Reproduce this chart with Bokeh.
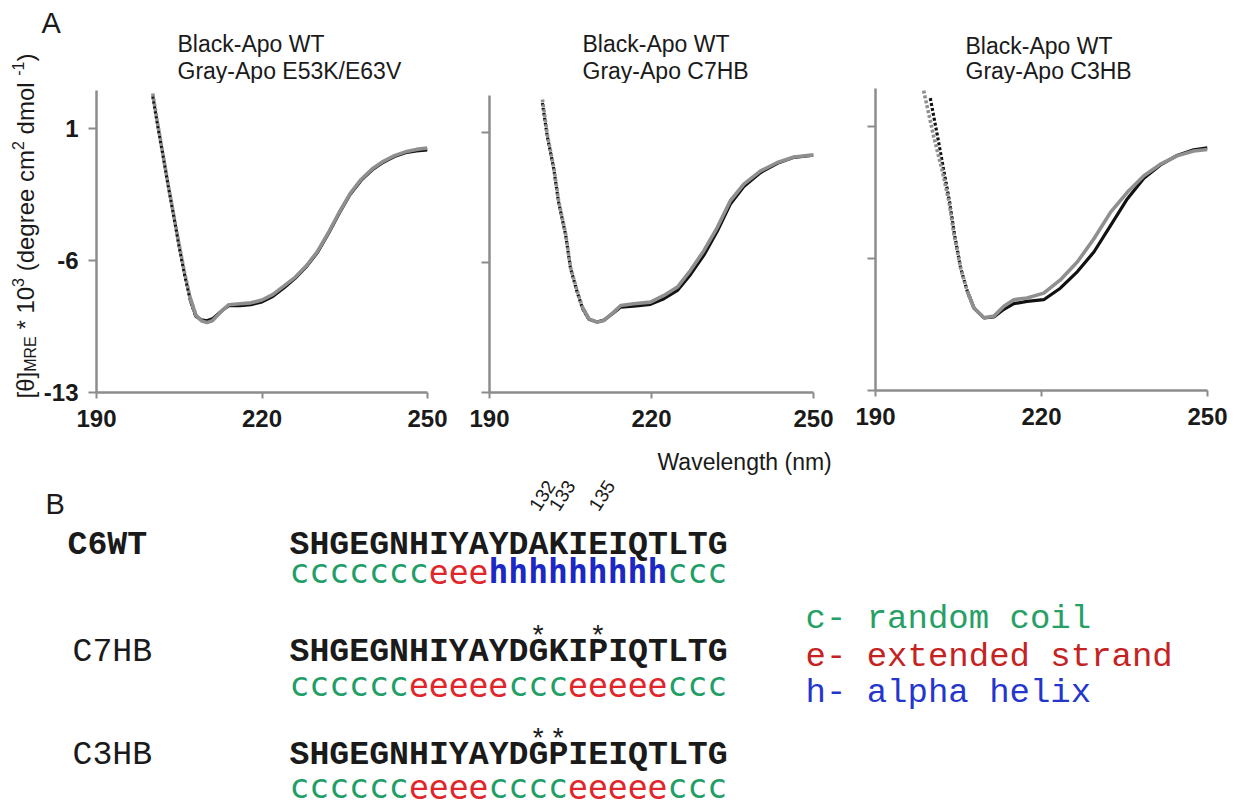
import math
from bokeh.plotting import figure
from bokeh.models import Range1d, FixedTicker
from bokeh.layouts import column, row
from bokeh.core.properties import value
from bokeh.embed import file_html
from bokeh.resources import INLINE

# ---------------- data ----------------
x_ticks = [190, 220, 250]
y_ticks = [-13, -6, 1]
y_tick_labels = ["-13", "-6", "1"]
panel_titles = [["Black-Apo WT", "Gray-Apo E53K/E63V"],
                ["Black-Apo WT", "Gray-Apo C7HB"],
                ["Black-Apo WT", "Gray-Apo C3HB"]]
x_title = "Wavelength (nm)"

p1_wl = [200.2, 201.0, 202.0, 203.0, 204.0, 205.0, 206.0, 207.0, 208.0, 209.0, 210.0, 211.0,
         212.0, 213.0, 214.0, 216.0, 218.0, 220.0, 222.0, 224.0, 226.0, 228.0, 230.0, 232.0,
         234.0, 236.0, 238.0, 240.0, 242.0, 244.0, 246.0, 248.0, 250.0]
p1_gray = [2.84, 1.4, -0.3, -2.0, -3.6, -5.2, -6.7, -8.0, -8.9, -9.2, -9.3, -9.2,
           -8.9, -8.6, -8.35, -8.3, -8.25, -8.1, -7.8, -7.35, -6.9, -6.3, -5.55, -4.55,
           -3.45, -2.45, -1.7, -1.15, -0.75, -0.45, -0.25, -0.12, -0.05]
p1_black = [2.7, 1.3, -0.35, -2.05, -3.65, -5.3, -6.8, -8.1, -8.95, -9.15, -9.2, -9.1,
            -8.85, -8.6, -8.4, -8.4, -8.35, -8.2, -7.9, -7.45, -6.95, -6.35, -5.6, -4.6,
            -3.5, -2.5, -1.75, -1.2, -0.8, -0.5, -0.3, -0.2, -0.15]

p2_wl = [199.8, 200.7, 201.9, 202.8, 204.1, 205.0, 206.2, 207.2, 208.4, 209.9, 211.2, 213.0,
         214.3, 216.7, 219.8, 222.3, 224.8, 227.2, 229.7, 232.2, 234.6, 237.1, 240.2, 243.3,
         246.4, 250.0]
p2_gray = [2.79, 0.91, -0.88, -2.67, -4.46, -6.25, -7.5, -8.4, -9.03, -9.21, -9.12, -8.67,
           -8.31, -8.22, -8.13, -7.77, -7.32, -6.43, -5.36, -4.1, -2.67, -1.77, -1.06, -0.61,
           -0.31, -0.2]
p2_black = [2.6, 0.8, -0.95, -2.75, -4.5, -6.3, -7.55, -8.45, -9.05, -9.2, -9.1, -8.7,
            -8.4, -8.35, -8.25, -7.95, -7.5, -6.65, -5.6, -4.3, -2.85, -1.9, -1.15, -0.65,
            -0.33, -0.22]

p3_wl_gray = [198.7, 200.5, 202.0, 203.3, 204.2, 205.4, 206.6, 207.8, 209.6, 211.4, 213.2, 215.0,
              217.4, 220.4, 223.4, 226.5, 229.5, 232.5, 235.5, 238.5, 241.5, 244.5, 247.5, 250.0]
p3_gray = [2.89, 0.48, -1.28, -3.03, -4.77, -6.53, -7.75, -8.63, -9.15, -9.06, -8.54, -8.19,
           -8.10, -7.84, -7.14, -6.18, -4.95, -3.55, -2.5, -1.62, -1.01, -0.57, -0.31, -0.23]
p3_wl_black = [199.9, 201.2, 202.3, 203.4, 204.3, 205.4, 206.6, 207.8, 209.6, 211.4, 213.2, 215.0,
               217.4, 220.4, 223.4, 226.5, 229.5, 232.5, 235.5, 238.5, 241.5, 244.5, 247.5, 250.0]
p3_black = [2.49, 0.48, -1.28, -3.03, -4.77, -6.53, -7.75, -8.63, -9.15, -9.1, -8.7, -8.4,
            -8.28, -8.19, -7.58, -6.7, -5.65, -4.25, -2.85, -1.75, -1.05, -0.55, -0.25, -0.15]

seq_names = ["C6WT", "C7HB", "C3HB"]
sequences = ["SHGEGNHIYAYDAKIEIQTLTG",
             "SHGEGNHIYAYDGKIPIQTLTG",
             "SHGEGNHIYAYDGPIEIQTLTG"]
structures = ["ccccccceeehhhhhhhhhccc",
              "cccccceeeeeccceeeeeccc",
              "cccccceeeecccceeeeeccc"]
first_residue = 120
marked_residues = [132, 133, 135]
mutated_residues = [[], [132, 135], [132, 133]]
legend_keys = ["c", "e", "h"]
legend_names = ["random coil", "extended strand", "alpha helix"]

# ---------------- styles / layout (page pixel coordinates) ----------------
SANS = "Liberation Sans"
MONO = "Liberation Mono"
SMONO = "DejaVu Sans Mono"
KMID = {SANS: 0.3465, MONO: 0.2665, SMONO: 0.346}
AXIS_GRAY = "#8c8c8c"
TXT = "#1a1a1a"
GRAY_LINE = "#8f8f8f"
BLACK_LINE = "#111111"
STRUCT_COL = {"c": "#1f9e68", "e": "#e0262b", "h": "#1c28c4"}
LEGEND_COL = {"c": "#27a065", "e": "#c4231f", "h": "#2536cc"}
STEEP_END = 207.5

L_W = 40            # left strip with the y-axis title
TOP_Y = 83          # bottom of the title strip
ROW_Y = 440         # bottom of the CD panels
PAGE_W = 1229
BOTTOM_Y = 807

# (frame_left, frame_top, frame_w, frame_h, fig_left, fig_w)
frames = [(93, 90, 334, 302, L_W, 460 - L_W),
          (489, 95, 324, 297, 460, 385),
          (875, 88, 332, 302, 845, PAGE_W - 845)]


def mid(baseline, size, font):
    return baseline - KMID[font] * size


def blank_fig(w, h, xr, yr):
    p = figure(width=w, height=h, x_range=xr, y_range=yr, output_backend="svg", title=None,
               toolbar_location=None, min_border=0, x_axis_location=None, y_axis_location=None,
               frame_align=False)
    p.outline_line_color = None
    p.grid.visible = False
    return p


def cd_panel(i, wl_b, val_b, wl_g, val_g):
    fl, ft, fw, fh, gl, gw = frames[i]
    p = figure(width=gw, height=ROW_Y - TOP_Y, x_range=Range1d(190, 250), y_range=Range1d(-13, 3),
               output_backend="svg", toolbar_location=None, title=None, frame_align=False,
               min_border_left=fl - gl, min_border_right=gl + gw - (fl + fw),
               min_border_top=ft - TOP_Y, min_border_bottom=ROW_Y - (ft + fh))
    p.outline_line_color = None
    p.grid.visible = False
    p.xaxis.ticker = FixedTicker(ticks=x_ticks)
    p.yaxis.ticker = FixedTicker(ticks=y_ticks)
    for ax in (p.xaxis[0], p.yaxis[0]):
        ax.axis_line_color = AXIS_GRAY
        ax.axis_line_width = 2.5
        ax.major_tick_line_color = AXIS_GRAY
        ax.major_tick_line_width = 2
        ax.major_tick_in = 0
        ax.minor_tick_line_color = None
        ax.major_label_text_font = SANS
        ax.major_label_text_font_style = "bold"
        ax.major_label_text_font_size = "24px"
        ax.major_label_text_color = TXT
    p.xaxis.major_tick_out = 6
    p.xaxis.major_label_standoff = 11
    p.yaxis.major_tick_out = 8
    p.yaxis.major_label_standoff = 10
    if i == 0:
        p.yaxis.major_label_overrides = {t: s for t, s in zip(y_ticks, y_tick_labels)}
    else:
        p.yaxis.major_label_overrides = {t: "" for t in y_ticks}
        p.yaxis.major_label_text_font_size = "1px"
    p.xaxis.major_label_overrides = {t: str(t) for t in x_ticks}
    for wl, v, c, w in ((wl_b, val_b, BLACK_LINE, 3.2), (wl_g, val_g, GRAY_LINE, 3.6)):
        k = sum(1 for a in wl if a <= STEEP_END)
        p.line(wl[:k + 1], v[:k + 1], line_color=c, line_width=w, line_dash="3 2")
        p.line(wl[k - 1:], v[k - 1:], line_color=c, line_width=w)
    return p


f1 = cd_panel(0, p1_wl, p1_black, p1_wl, p1_gray)
f2 = cd_panel(1, p2_wl, p2_black, p2_wl, p2_gray)
f3 = cd_panel(2, p3_wl_black, p3_black, p3_wl_gray, p3_gray)

# ---------- title strip ----------
T = blank_fig(PAGE_W - L_W, TOP_Y, Range1d(L_W, PAGE_W), Range1d(TOP_Y, 0))
title_pos = [(177, 51, 78), (582, 51, 78), (965, 53, 78)]
tx, ty, tt = [], [], []
for i in range(3):
    px, b1, b2 = title_pos[i]
    tx += [px, px]
    ty += [mid(b1, 23, SANS), mid(b2, 23, SANS)]
    tt += panel_titles[i]
T.text(x=tx, y=ty, text=tt, text_font=value(SANS), text_font_size="23px", text_color=TXT,
       text_baseline="middle", text_align="left")
T.text(x=[41], y=[mid(33, 29, SANS)], text=["A"], text_font=value(SANS), text_font_size="29px",
       text_color=TXT, text_baseline="middle", text_align="left")

# ---------- y-axis title strip (pieces with subscript / superscripts) ----------
L = blank_fig(L_W, ROW_Y, Range1d(0, L_W), Range1d(ROW_Y, 0))
AW = {'[': 278, ']': 278, 'θ': 556, 'M': 833, 'R': 722, 'E': 667, '*': 389, ' ': 278,
      '1': 556, '0': 556, '3': 556, '(': 333, ')': 333, 'd': 556, 'e': 556, 'g': 556,
      'r': 333, 'c': 500, 'm': 833, '2': 556, 'o': 556, 'l': 222, '-': 333}
pieces = [("[θ]", "n", 0), ("MRE", "sub", 0), ("* 10", "n", 1), ("3", "sup", 0),
          ("(degree cm", "n", 1), ("2", "sup", 0), ("dmol", "n", 1), ("-1", "sup", 1),
          (")", "n", 0)]
MAIN, SMALL = 24.0, 16.0
BASE_X, START_Y = 33, 398
pos = 0.0
for txt, kind, gap in pieces:
    size = MAIN if kind == "n" else SMALL
    pos += gap * AW[' '] / 1000.0 * MAIN
    bx = BASE_X + {"n": 0, "sub": 3, "sup": -10}[kind]
    L.text(x=[bx - KMID[SANS] * size], y=[START_Y - pos], text=[txt], angle=math.pi / 2,
           text_font=value(SANS), text_font_size=f"{int(size)}px", text_color=TXT,
           text_baseline="middle", text_align="left")
    pos += sum(AW.get(ch, 556) for ch in txt) / 1000.0 * size

# ---------------- panel B ----------------
CW = 19.9
SEQ_LEFT = 289


def col(px):
    return (px - SEQ_LEFT) / CW


fB = blank_fig(PAGE_W, BOTTOM_Y - ROW_Y, Range1d(col(0), col(PAGE_W)), Range1d(BOTTOM_Y, ROW_Y))

fB.text(x=[col(657)], y=[mid(469, 23, SANS)], text=[x_title], text_font=value(SANS),
        text_font_size="23px", text_color=TXT, text_baseline="middle", text_align="left")

seq_base = [553, 660, 763]
struct_base = [582, 695, 797]
star_base = [0, 644, 747]
name_px = [67, 72, 72]

fB.text(x=[col(45)], y=[mid(514, 29, SANS)], text=["B"], text_font=value(SANS),
        text_font_size="29px", text_color=TXT, text_baseline="middle")

ANG = 1.0
NUM_SIZE = 19
dxn = -KMID[SANS] * NUM_SIZE * math.sin(ANG)
dyn = -KMID[SANS] * NUM_SIZE * math.cos(ANG)
fB.text(x=[r - first_residue + 0.55 + dxn / CW for r in marked_residues],
        y=[512 + dyn] * len(marked_residues),
        text=[str(r) for r in marked_residues], angle=ANG, text_font=value(SANS),
        text_font_size=f"{NUM_SIZE}px", text_color=TXT, text_baseline="middle", text_align="left")

for k in range(3):
    fB.text(x=[col(name_px[k])], y=[mid(seq_base[k], 33.2, MONO)], text=[seq_names[k]],
            text_font=value(MONO), text_font_style="bold" if k == 0 else "normal",
            text_font_size="33.2px", text_color=TXT, text_baseline="middle")
    fB.text(x=[0], y=[mid(seq_base[k], 33.2, MONO)], text=[sequences[k]], text_font=value(MONO),
            text_font_style="bold", text_font_size="33.2px", text_color=TXT,
            text_baseline="middle")
    s = structures[k]
    runs = []
    start = 0
    for j in range(1, len(s) + 1):
        if j == len(s) or s[j] != s[start]:
            runs.append((start, s[start:j]))
            start = j
    fB.text(x=[r[0] for r in runs], y=[mid(struct_base[k], 33, SMONO)] * len(runs),
            text=[r[1] for r in runs],
            text_color=[STRUCT_COL[r[1][0]] for r in runs],
            text_font_style=["bold" if r[1][0] == "h" else "normal" for r in runs],
            text_font=value(SMONO), text_font_size="33px", text_baseline="middle")
    if mutated_residues[k]:
        fB.text(x=[r - first_residue + 0.5 for r in mutated_residues[k]],
                y=[mid(star_base[k], 28, MONO)] * len(mutated_residues[k]),
                text=["*"] * len(mutated_residues[k]),
                text_font=value(MONO), text_font_size="28px", text_color=TXT,
                text_align="center", text_baseline="middle")

legend_base = [628, 666, 702]
fB.text(x=[col(805)] * 3, y=[mid(b, 34, MONO) for b in legend_base],
        text=[f"{k}- {n}" for k, n in zip(legend_keys, legend_names)],
        text_color=[LEGEND_COL[k] for k in legend_keys], text_font=value(MONO),
        text_font_size="34px", text_baseline="middle")

layout = column(row(L, column(T, row(f1, f2, f3))), fB)
open("out.html", "w").write(file_html(layout, INLINE))
